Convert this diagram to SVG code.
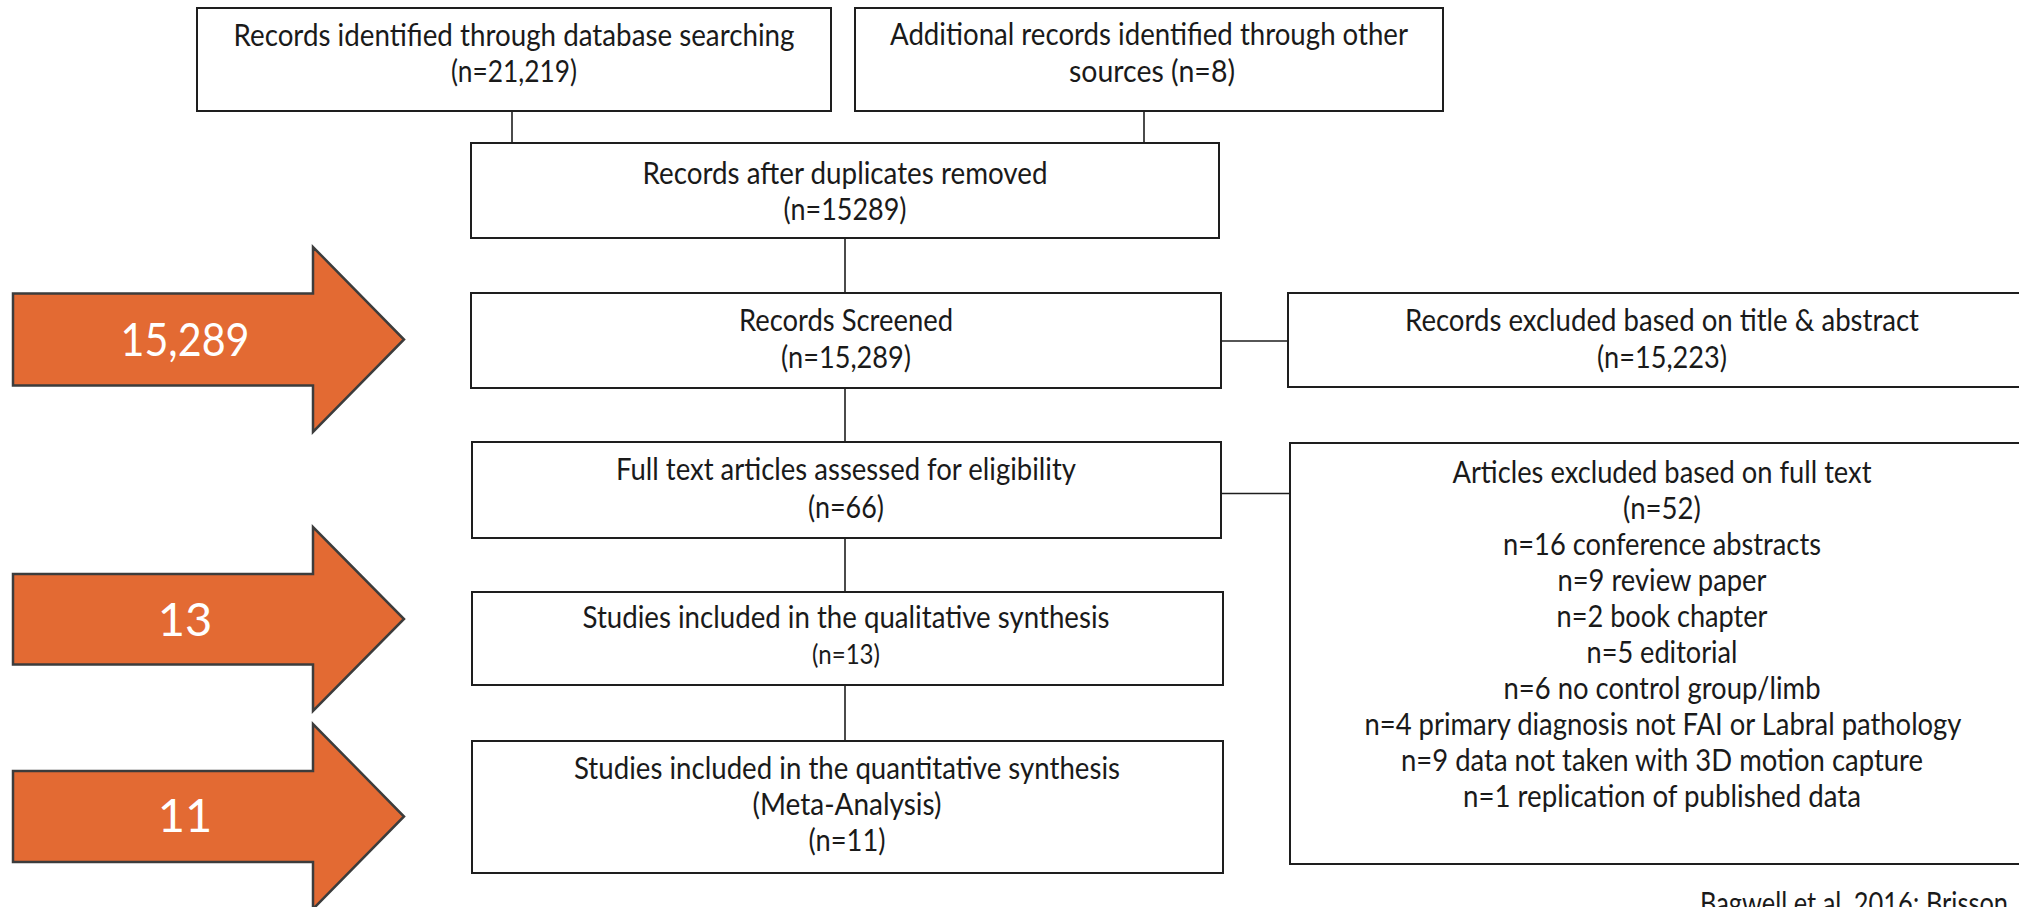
<svg xmlns="http://www.w3.org/2000/svg" width="2019" height="907" viewBox="0 0 2019 907">
<style>
.box{fill:#ffffff;stroke:#1e1e1e;stroke-width:2}
.t{font-family:Lato,"Open Sans","Liberation Sans",sans-serif;font-size:30px;fill:#1a1a1a;text-anchor:middle}
.s{font-size:26px}
.arrow{fill:#E36A33;stroke:#3c3c3c;stroke-width:2.5;stroke-linejoin:miter}
.at{font-family:Lato,"Open Sans","Liberation Sans",sans-serif;font-size:47px;fill:#ffffff;text-anchor:middle}
.c{stroke:#1e1e1e;stroke-width:1.6;fill:none}
</style>
<rect width="2019" height="907" fill="#ffffff"/>
<g id="connectors">
<line class="c" x1="512" y1="111" x2="512" y2="143"/>
<line class="c" x1="1144" y1="111" x2="1144" y2="143"/>
<line class="c" x1="845" y1="238" x2="845" y2="293"/>
<line class="c" x1="1221" y1="341" x2="1288" y2="341"/>
<line class="c" x1="845" y1="388" x2="845" y2="442"/>
<line class="c" x1="1221" y1="493.5" x2="1290" y2="493.5"/>
<line class="c" x1="845" y1="538" x2="845" y2="592"/>
<line class="c" x1="845" y1="685" x2="845" y2="741"/>
</g>
<g id="arrow-15289">
<polygon class="arrow" points="13,293.5 313,293.5 313,247 404,339.5 313,432 313,385.5 13,385.5"/>
<text class="at" x="185" y="356" textLength="129" lengthAdjust="spacingAndGlyphs">15,289</text>
</g>
<g id="arrow-13">
<polygon class="arrow" points="13,574 313,574 313,527 404,619 313,711 313,664.5 13,664.5"/>
<text class="at" x="185" y="636">13</text>
</g>
<g id="arrow-11">
<polygon class="arrow" points="13,771 313,771 313,724 404,816.5 313,909 313,862 13,862"/>
<text class="at" x="185" y="832">11</text>
</g>
<g id="db-search">
<rect class="box" x="197" y="8" width="634" height="103"/>
<text class="t" x="514" y="46" textLength="561" lengthAdjust="spacingAndGlyphs">Records identified through database searching</text>
<text class="t" x="514" y="82" textLength="126" lengthAdjust="spacingAndGlyphs">(n=21,219)</text>
</g>
<g id="other-sources">
<rect class="box" x="855" y="8" width="588" height="103"/>
<text class="t" x="1149" y="45" textLength="518" lengthAdjust="spacingAndGlyphs">Additional records identified through other</text>
<text class="t" x="1152" y="82" textLength="166" lengthAdjust="spacingAndGlyphs">sources (n=8)</text>
</g>
<g id="duplicates-removed">
<rect class="box" x="471" y="143" width="748" height="95"/>
<text class="t" x="845" y="183.5" textLength="405" lengthAdjust="spacingAndGlyphs">Records after duplicates removed</text>
<text class="t" x="845" y="220" textLength="123" lengthAdjust="spacingAndGlyphs">(n=15289)</text>
</g>
<g id="screened">
<rect class="box" x="471" y="293" width="750" height="95"/>
<text class="t" x="846" y="331" textLength="214" lengthAdjust="spacingAndGlyphs">Records Screened</text>
<text class="t" x="846" y="368" textLength="130" lengthAdjust="spacingAndGlyphs">(n=15,289)</text>
</g>
<g id="excluded-title">
<rect class="box" x="1288" y="293" width="748" height="94"/>
<text class="t" x="1662" y="330.5" textLength="514" lengthAdjust="spacingAndGlyphs">Records excluded based on title &amp; abstract</text>
<text class="t" x="1662" y="368" textLength="130" lengthAdjust="spacingAndGlyphs">(n=15,223)</text>
</g>
<g id="full-text">
<rect class="box" x="472" y="442" width="749" height="96"/>
<text class="t" x="846" y="480" textLength="460" lengthAdjust="spacingAndGlyphs">Full text articles assessed for eligibility</text>
<text class="t" x="846" y="517.5" textLength="76" lengthAdjust="spacingAndGlyphs">(n=66)</text>
</g>
<g id="excluded-full-text">
<rect class="box" x="1290" y="443" width="746" height="421"/>
<text class="t" x="1662" y="482.5" textLength="419" lengthAdjust="spacingAndGlyphs">Articles excluded based on full text</text>
<text class="t" x="1662" y="518.6" textLength="78" lengthAdjust="spacingAndGlyphs">(n=52)</text>
<text class="t" x="1662" y="554.6" textLength="318" lengthAdjust="spacingAndGlyphs">n=16 conference abstracts</text>
<text class="t" x="1662" y="590.7" textLength="209" lengthAdjust="spacingAndGlyphs">n=9 review paper</text>
<text class="t" x="1662" y="626.7" textLength="211" lengthAdjust="spacingAndGlyphs">n=2 book chapter</text>
<text class="t" x="1662" y="662.8" textLength="151" lengthAdjust="spacingAndGlyphs">n=5 editorial</text>
<text class="t" x="1662" y="698.9" textLength="317" lengthAdjust="spacingAndGlyphs">n=6 no control group/limb</text>
<text class="t" x="1663" y="734.9" textLength="597" lengthAdjust="spacingAndGlyphs">n=4 primary diagnosis not FAI or Labral pathology</text>
<text class="t" x="1662" y="771" textLength="522" lengthAdjust="spacingAndGlyphs">n=9 data not taken with 3D motion capture</text>
<text class="t" x="1662" y="807" textLength="398" lengthAdjust="spacingAndGlyphs">n=1 replication of published data</text>
</g>
<g id="qualitative">
<rect class="box" x="472" y="592" width="751" height="93"/>
<text class="t" x="846" y="628" textLength="527" lengthAdjust="spacingAndGlyphs">Studies included in the qualitative synthesis</text>
<text class="t s" x="846" y="664" textLength="68" lengthAdjust="spacingAndGlyphs">(n=13)</text>
</g>
<g id="quantitative">
<rect class="box" x="472" y="741" width="751" height="132"/>
<text class="t" x="847" y="779" textLength="546" lengthAdjust="spacingAndGlyphs">Studies included in the quantitative synthesis</text>
<text class="t" x="847" y="815" textLength="189" lengthAdjust="spacingAndGlyphs">(Meta-Analysis)</text>
<text class="t" x="847" y="850.5" textLength="77" lengthAdjust="spacingAndGlyphs">(n=11)</text>
</g>
<text class="t" x="1700" y="914" style="text-anchor:start" textLength="308" lengthAdjust="spacingAndGlyphs">Bagwell et al. 2016; Brisson</text>
</svg>
